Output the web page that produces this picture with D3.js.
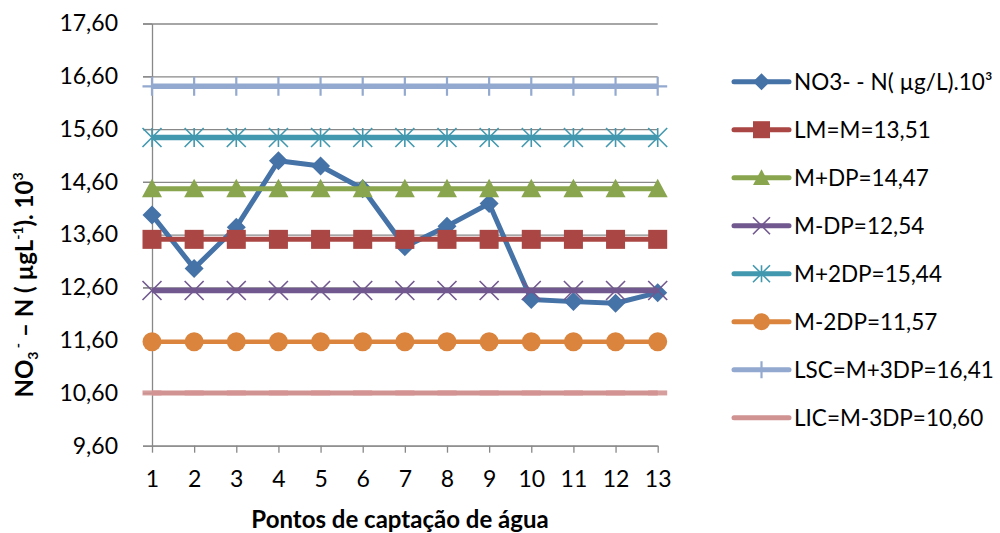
<!DOCTYPE html>
<html>
<head>
<meta charset="utf-8">
<script src="https://cdn.jsdelivr.net/npm/d3@7"></script>
<style>
  html, body { margin: 0; padding: 0; background: #fff; }
  svg { display: block; }
  text { font-family: Lato, "Open Sans", sans-serif; fill: #000; }
</style>
</head>
<body>
<svg id="chart" width="1000" height="533"></svg>
<script>
// Sampling points (water intake points)
const points = [1, 2, 3, 4, 5, 6, 7, 8, 9, 10, 11, 12, 13];

// Measured nitrate-nitrogen concentration, µg/L × 10³
const no3Values = [13.97, 12.96, 13.74, 15.00, 14.90, 14.47, 13.37, 13.76, 14.19, 12.37, 12.33, 12.30, 12.50];

// Control-chart limits
const meanLine = 13.51;      // LM = M
const plus1SD = 14.47;       // M + DP
const minus1SD = 12.54;      // M - DP
const plus2SD = 15.44;       // M + 2DP
const minus2SD = 11.57;      // M - 2DP
const upperLimit = 16.41;    // LSC = M + 3DP
const lowerLimit = 10.60;    // LIC = M - 3DP

// Y axis tick values
const yTicks = [9.6, 10.6, 11.6, 12.6, 13.6, 14.6, 15.6, 16.6, 17.6];

const series = [
  { name: "NO3- - N( µg/L).10³", values: no3Values, color: "#4572A7", marker: "diamond", width: 5 },
  { name: "LM=M=13,51", values: points.map(() => meanLine), color: "#AA4643", marker: "square", width: 5 },
  { name: "M+DP=14,47", values: points.map(() => plus1SD), color: "#89A54E", marker: "triangle", width: 5 },
  { name: "M-DP=12,54", values: points.map(() => minus1SD), color: "#71588F", marker: "x", width: 5.5 },
  { name: "M+2DP=15,44", values: points.map(() => plus2SD), color: "#4198AF", marker: "star", width: 5.5 },
  { name: "M-2DP=11,57", values: points.map(() => minus2SD), color: "#DB843D", marker: "circle", width: 4.5 },
  { name: "LSC=M+3DP=16,41", values: points.map(() => upperLimit), color: "#93A9CF", marker: "plus", width: 5.5 },
  { name: "LIC=M-3DP=10,60", values: points.map(() => lowerLimit), color: "#D19392", marker: "dash", width: 5 }
];

const svg = d3.select("#chart");

const x = d3.scaleLinear().domain([1, 13]).range([152, 657.7]);
const y = d3.scaleLinear().domain([9.6, 17.6]).range([445.7, 23.5]);

const fmt = d3.formatLocale({ decimal: ",", thousands: ".", grouping: [3], currency: ["", ""] }).format(".2f");

// Horizontal gridlines, extending past the axis as tick marks
const grid = svg.append("g")
  .attr("transform", `translate(${x.range()[1]},0)`)
  .call(d3.axisLeft(y).tickValues(yTicks).tickSize(x.range()[1] - x.range()[0] + 9).tickFormat(""));
grid.select(".domain").remove();
grid.selectAll("line").attr("stroke", "#888").attr("stroke-width", 1.3);

// Y axis with labels
const yAxis = svg.append("g")
  .attr("transform", `translate(${x.range()[0]},0)`)
  .call(d3.axisLeft(y).tickValues(yTicks).tickSize(9).tickSizeOuter(0).tickPadding(25).tickFormat(fmt));
yAxis.select(".domain").attr("stroke", "#888").attr("stroke-width", 1.3);
yAxis.selectAll("line").attr("stroke", "#888").attr("stroke-width", 1.3);
yAxis.selectAll("text").attr("font-size", 23).attr("font-family", "Lato, sans-serif").attr("fill", "#000");

// X axis
const xAxis = svg.append("g")
  .attr("transform", `translate(0,${y.range()[0]})`)
  .call(d3.axisBottom(x).tickValues(points).tickSize(7).tickSizeOuter(0).tickPadding(18).tickFormat(d3.format("d")));
xAxis.select(".domain").attr("stroke", "#888").attr("stroke-width", 1.3);
xAxis.selectAll("line").attr("stroke", "#888").attr("stroke-width", 1.3);
xAxis.selectAll("text").attr("font-size", 23).attr("font-family", "Lato, sans-serif").attr("fill", "#000");

// Marker drawing
function drawMarker(g, type, color, s) {
  const h = s / 2;
  switch (type) {
    case "diamond":
      g.append("path").attr("d", `M0,${-h}L${h},0L0,${h}L${-h},0Z`).attr("fill", color);
      break;
    case "square":
      g.append("rect").attr("x", -h).attr("y", -h).attr("width", s).attr("height", s).attr("fill", color);
      break;
    case "triangle":
      g.append("path").attr("d", `M0,${-h}L${h},${h * 0.85}L${-h},${h * 0.85}Z`).attr("fill", color);
      break;
    case "circle":
      g.append("circle").attr("r", h).attr("fill", color);
      break;
    case "x":
      g.append("path").attr("d", `M${-h},${-h}L${h},${h}M${-h},${h}L${h},${-h}`)
        .attr("stroke", color).attr("stroke-width", 1.6).attr("fill", "none");
      break;
    case "star":
      g.append("path").attr("d", `M${-h},${-h}L${h},${h}M${-h},${h}L${h},${-h}M0,${-h}L0,${h}`)
        .attr("stroke", color).attr("stroke-width", 1.6).attr("fill", "none");
      break;
    case "plus":
      g.append("path").attr("d", `M0,${-h}L0,${h}M${-h},0L${h},0`)
        .attr("stroke", color).attr("stroke-width", 2.2).attr("fill", "none");
      break;
    case "dash":
      g.append("rect").attr("x", -h).attr("y", -2.5).attr("width", s).attr("height", 5)
        .attr("fill", color).attr("opacity", 0.9);
      break;
  }
}

const line = d3.line().x((d, i) => x(points[i])).y(d => y(d));

const plot = svg.append("g");
series.forEach(s => {
  const g = plot.append("g");
  g.append("path")
    .datum(s.values)
    .attr("d", line)
    .attr("fill", "none")
    .attr("stroke", s.color)
    .attr("stroke-width", s.width)
    .attr("stroke-linejoin", "round");
  s.values.forEach((v, i) => {
    const m = g.append("g").attr("transform", `translate(${x(points[i])},${y(v)})`);
    drawMarker(m, s.marker, s.color, s.marker === "triangle" ? 20 : 19);
  });
});

// Legend
const legend = svg.append("g");
series.forEach((s, i) => {
  const ly = 81.7 + i * 48;
  const g = legend.append("g").attr("transform", `translate(0,${ly})`);
  g.append("line").attr("x1", 734).attr("x2", 789).attr("y1", 0).attr("y2", 0)
    .attr("stroke", s.color).attr("stroke-width", 5).attr("stroke-linecap", "round");
  if (s.marker !== "dash") {
    const m = g.append("g").attr("transform", "translate(761.5,0)");
    drawMarker(m, s.marker, s.color, 17);
  }
  g.append("text").attr("x", 794).attr("y", 0).attr("dy", "0.36em")
    .attr("font-size", 22.5).text(s.name);
});

// X axis title
svg.append("text")
  .attr("x", 400).attr("y", 528)
  .attr("text-anchor", "middle")
  .attr("font-size", 24).attr("font-weight", "bold")
  .text("Pontos de captação de água");

// Y axis title with sub/superscripts
const yt = svg.append("text")
  .attr("transform", "translate(33,285) rotate(-90)")
  .attr("text-anchor", "middle")
  .attr("font-size", 24).attr("font-weight", "bold");
yt.append("tspan").text("NO");
yt.append("tspan").attr("dy", 5).attr("font-size", 14).text("3");
yt.append("tspan").attr("dy", -15).attr("font-size", 14).text(" -");
yt.append("tspan").attr("dy", 10).text(" – N ( µgL");
yt.append("tspan").attr("dy", -10).attr("font-size", 14).text("-1");
yt.append("tspan").attr("dy", 10).text("). 10");
yt.append("tspan").attr("dy", -10).attr("font-size", 14).text("3");
</script>
</body>
</html>
